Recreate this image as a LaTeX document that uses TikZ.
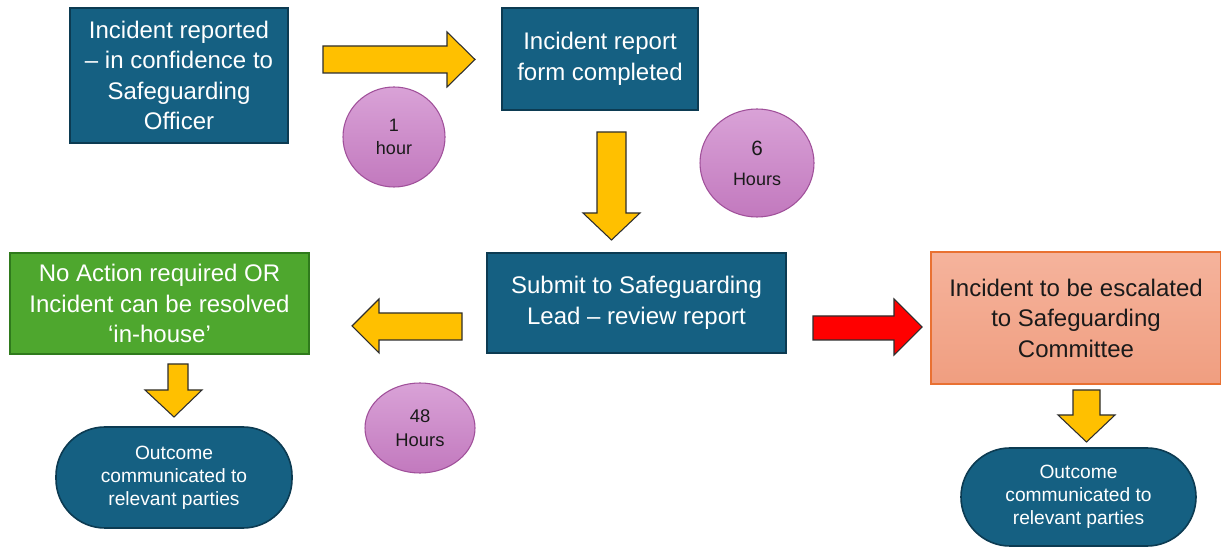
\documentclass[tikz,border=0pt]{standalone}
\usepackage{fontspec}
\setmainfont{Liberation Sans}
\usetikzlibrary{shapes.geometric}
\newcommand\pxl[1]{#1*0.75pt}
\definecolor{tealfill}{HTML}{156082}
\definecolor{tealedge}{HTML}{0C3B52}
\definecolor{grn}{HTML}{4EA72E}
\definecolor{grnedge}{HTML}{2F7A1C}
\definecolor{salmontop}{HTML}{F5B39C}
\definecolor{salmonbot}{HTML}{F09E80}
\definecolor{salmonedge}{HTML}{E97132}
\definecolor{ayellow}{HTML}{FFC000}
\definecolor{ared}{HTML}{FF0000}
\definecolor{aedge}{HTML}{2E2E2E}
\definecolor{purtop}{HTML}{D9A2D7}
\definecolor{purbot}{HTML}{C279BE}
\definecolor{puredge}{HTML}{A0509A}
\definecolor{txtdark}{HTML}{1A1A1A}
\begin{document}
\begin{tikzpicture}[x=0.75pt,y=-0.75pt,
  bigtxt/.style={font=\fontsize{18pt}{22.9pt}\selectfont, align=center, inner sep=0pt},
  tealbox/.style={bigtxt, rectangle, fill=tealfill, draw=tealedge, line width=0.8pt, text=white},
  greenbox/.style={bigtxt, rectangle, fill=grn, draw=grnedge, line width=0.8pt, text=white},
  salmonbox/.style={bigtxt, rectangle, top color=salmontop, bottom color=salmonbot, draw=salmonedge, line width=0.8pt, text=txtdark},
  outcome/.style={rectangle, rounded corners=\pxl{49}, fill=tealfill, draw=tealedge, line width=1.2pt, text=white, align=center, inner sep=0pt, font=\fontsize{14.4pt}{17.3pt}\selectfont},
  timer/.style={ellipse, top color=purtop, bottom color=purbot, draw=puredge, line width=0.8pt, text=txtdark, align=center, inner sep=0pt},
  yarrow/.style={fill=ayellow, draw=aedge, line width=0.8pt, line join=miter},
  rarrow/.style={fill=ared, draw=aedge, line width=0.8pt, line join=miter}
]
\useasboundingbox[fill=white] (0,0) rectangle (1221,548);

% boxes
\node[tealbox, minimum width=\pxl{218}, minimum height=\pxl{135}] (report) at (179,75.5)
  {Incident reported\\– in confidence to\\Safeguarding\\Officer};
\node[tealbox, minimum width=\pxl{196}, minimum height=\pxl{102}] (form) at (600,59)
  {Incident report\\form completed};
\node[tealbox, minimum width=\pxl{299}, minimum height=\pxl{100}] (lead) at (636.5,303)
  {Submit to Safeguarding\\Lead – review report};
\node[greenbox, minimum width=\pxl{299}, minimum height=\pxl{101}] (inhouse) at (159.5,303.5)
  {No Action required OR\\Incident can be resolved\\‘in-house’};
\node[salmonbox, minimum width=\pxl{290}, minimum height=\pxl{132}] (escal) at (1076,318)
  {Incident to be escalated\\to Safeguarding\\Committee};
\node[outcome, minimum width=\pxl{236}, minimum height=\pxl{101}] (outL) at (174,477.5)
  {Outcome\\communicated to\\relevant parties};
\node[outcome, minimum width=\pxl{235}, minimum height=\pxl{98}] (outR) at (1078.5,497)
  {Outcome\\communicated to\\relevant parties};

% timers
\node[timer, minimum width=\pxl{102}, minimum height=\pxl{100}, font=\fontsize{13.5pt}{17pt}\selectfont] (t1) at (394,137)
  {1\\hour};
\node[timer, minimum width=\pxl{114}, minimum height=\pxl{108}, font=\fontsize{13.5pt}{16pt}\selectfont] (t6) at (757,163)
  {{\fontsize{15.5pt}{16pt}\selectfont 6}\\[6.5pt]Hours};
\node[timer, minimum width=\pxl{110}, minimum height=\pxl{90}, font=\fontsize{13.8pt}{18pt}\selectfont] (t48) at (420,428)
  {48\\Hours};

% block arrows
\draw[yarrow] (323,46) -- (447,46) -- (447,32) -- (475,59.5) -- (447,87) -- (447,73) -- (323,73) -- cycle;
\draw[yarrow] (597,132) -- (626,132) -- (626,213) -- (640,213) -- (611.5,240) -- (583,213) -- (597,213) -- cycle;
\draw[yarrow] (462,313) -- (379,313) -- (379,299) -- (352,326) -- (379,353) -- (379,340) -- (462,340) -- cycle;
\draw[yarrow] (168,364) -- (188,364) -- (188,390) -- (202,390) -- (174,417) -- (145,390) -- (168,390) -- cycle;
\draw[rarrow] (813,316) -- (894,316) -- (894,299) -- (922,327) -- (894,355) -- (894,340) -- (813,340) -- cycle;
\draw[yarrow] (1073,390) -- (1100,390) -- (1100,415) -- (1115,415) -- (1086.5,442) -- (1058,415) -- (1073,415) -- cycle;
\end{tikzpicture}
\end{document}
